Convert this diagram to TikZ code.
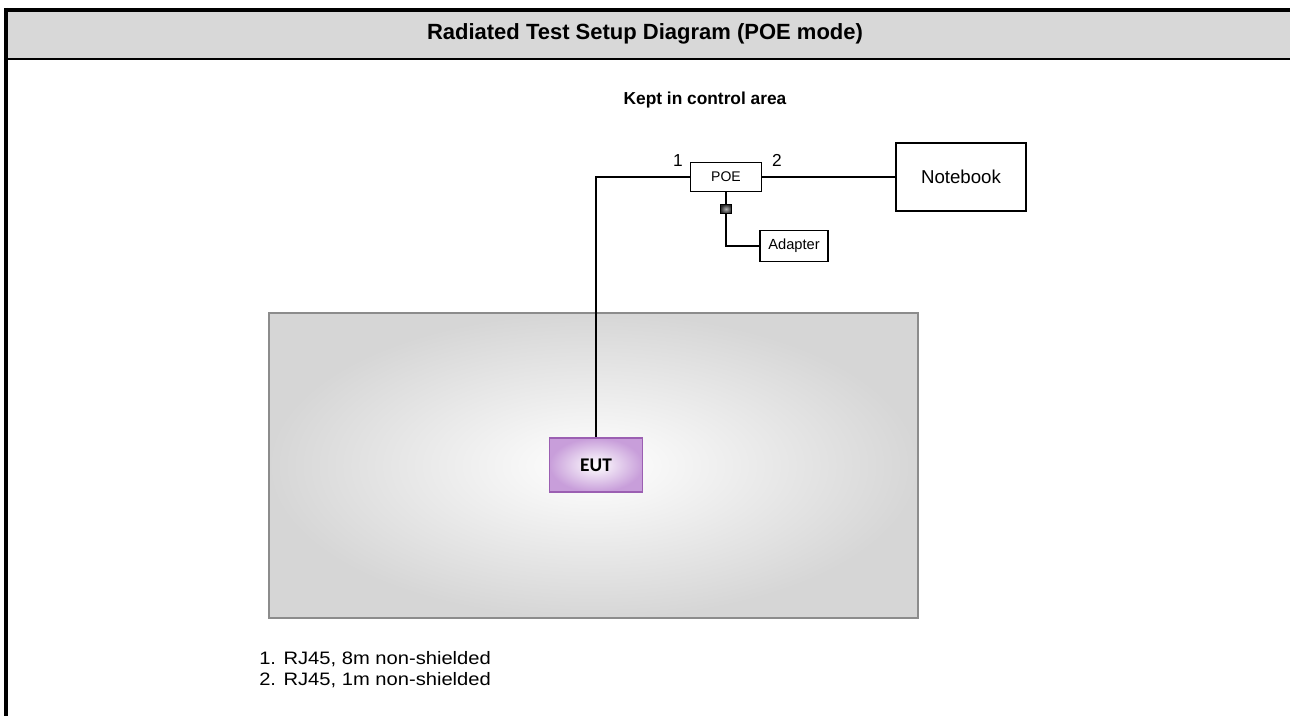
\documentclass[tikz,border=0pt]{standalone}
\usepackage{fontspec}
\setmainfont{Liberation Sans}
\newfontfamily\eutfont{Carlito}
\newfontfamily\notefont[FakeStretch=1.12]{Liberation Sans}
\usetikzlibrary{positioning}
\definecolor{headgray}{RGB}{216,216,216}
\definecolor{roomedge}{RGB}{140,140,140}
\definecolor{eutedge}{RGB}{155,95,178}
\definecolor{eutfill}{RGB}{200,158,218}
\tikzset{
  box/.style = {draw, line width=1pt, fill=white, inner sep=0pt},
  cable/.style = {line width=1.1pt},
  portnum/.style = {font=\fontsize{13}{15}\selectfont},
}

\begin{document}
\begin{tikzpicture}[x=0.75pt, y=-0.75pt]
                \useasboundingbox (0,0) rectangle (1290,716);
                % frame and header
                \fill[headgray] (4,12) rectangle (1290,58);
                \draw[line width=3pt] (4,10) -- (1290,10);
                \draw[line width=3pt] (6,8) -- (6,716);
                \draw[line width=1.6pt] (4,59) -- (1290,59);
                \node[font=\fontsize{16.5}{19}\selectfont\bfseries] (title) at (645,34) {Radiated Test Setup Diagram (POE mode)};
                \node[font=\fontsize{13}{15}\selectfont\bfseries] (area) at (705,100) {Kept in control area};
                % test room
                \path[draw=roomedge, line width=1.2pt, shading=radial, inner color=white, outer color=gray!32] (269,313) rectangle (918,618);
                \node[draw=eutedge, line width=1pt, shading=radial, inner color=white, outer color=eutfill, minimum width=70pt, minimum height=40.5pt, inner sep=0pt, font=\eutfont\fontsize{14.5}{16}\selectfont\bfseries] (eut) at (596,465) {EUT};
                % devices in control area
                \node[box, minimum width=53pt, minimum height=22pt, font=\fontsize{10.5}{12}\selectfont] (poe) at (726,177) {POE};
                \node[box, minimum width=97.5pt, minimum height=51pt, font=\fontsize{14}{16}\selectfont] (notebook) at (961,177) {Notebook};
                \node[box, minimum width=51pt, minimum height=23pt, font=\fontsize{11}{13}\selectfont] (adapter) at (794,246) {Adapter};
                \node[draw, line width=0.8pt, shading=radial, inner color=gray!60, outer color=black!85, minimum width=8.5pt, minimum height=7pt, inner sep=0pt] (plug) at (726,209) {};
                \draw[cable] (poe.west) -| (eut.north);
                \draw[cable] (poe.east) -- (notebook.west);
                \draw[cable] (poe) -- (plug);
                \draw[cable] (plug.south) |- (adapter.west);
                \node[portnum] (one) at (678,161) {1};
                \node[portnum] (two) at (777,160) {2};
                % cable list
                \node[anchor=north west, align=left, inner sep=0pt, font=\notefont\fontsize{13.5}{15.75}\selectfont] (notes) at (259,651) {1. RJ45, 8m non-shielded\\2. RJ45, 1m non-shielded};
\end{tikzpicture}
\end{document}
